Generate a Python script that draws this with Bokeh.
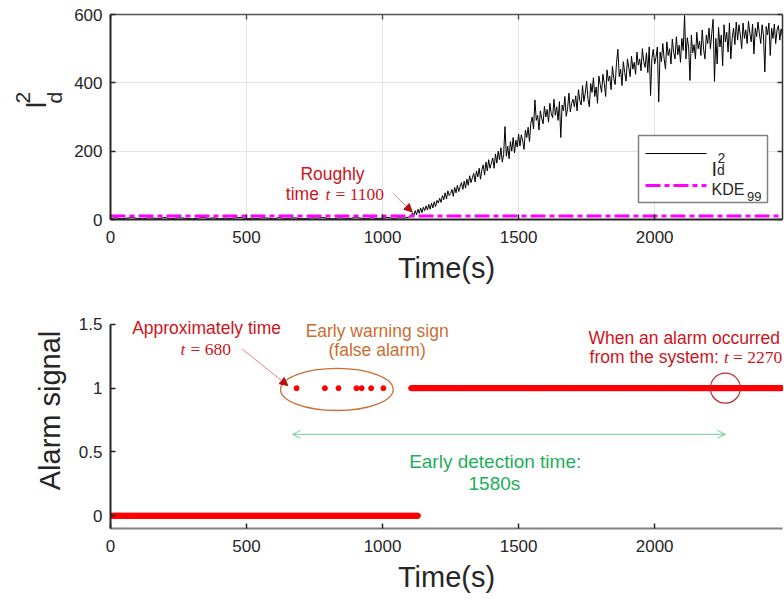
import numpy as np
from math import pi
from bokeh.plotting import figure
from bokeh.models import (Range1d, LinearAxis, Label, Arrow, NormalHead, OpenHead,
                          FixedTicker, CustomJSTickFormatter)
from bokeh.core.properties import value
from bokeh.layouts import column, row
from bokeh.embed import file_html
from bokeh.resources import INLINE

# ---------------- data ----------------
# I_d^2 statistic, sampled every 20 s from t = 0 (normal operation)
id2_pre = [3, 5, 2, 4, 6, 3, 2, 5, 4, 3, 6, 2, 4, 5, 3, 2, 4, 6, 3, 5,
           2, 4, 3, 5, 6, 2, 4, 3, 5, 4, 2, 6, 3, 4, 5, 2, 3, 5, 4, 6,
           3, 2, 5, 4, 3, 6, 4, 2, 5, 3, 4, 6, 3, 5, 4, 8]
# I_d^2 statistic, sampled every 5 s from t = 1105 (fault developing)
id2_post = [8, 20, 12, 26, 14, 30, 18, 34, 20, 36, 26, 40, 28, 44, 30, 48, 34, 52, 38, 56,
            48, 62, 50, 70, 58, 78, 60, 84, 70, 76, 88, 68, 94, 78, 100, 82, 96, 108, 88, 112,
            92, 118, 100, 128, 108, 122, 135, 110, 142, 125, 150, 118, 145, 160, 130, 168, 142, 175, 150, 165,
            180, 150, 192, 165, 200, 175, 210, 168, 190, 272, 185, 215, 178, 228, 200, 240, 195, 232, 212, 250,
            215, 248, 230, 205, 262, 240, 270, 228, 282, 300, 265, 350, 290, 305, 262, 318, 296, 280, 332, 300,
            322, 285, 340, 310, 298, 352, 305, 330, 290, 345, 240, 335, 318, 360, 302, 325, 370, 315, 340, 352,
            330, 362, 318, 380, 348, 335, 392, 345, 370, 405, 352, 330, 398, 372, 415, 360, 388, 340, 420, 395,
            372, 425, 398, 360, 438, 405, 420, 380, 448, 412, 395, 460, 498, 418, 440, 392, 462, 430, 405, 470,
            445, 418, 478, 440, 460, 425, 490, 452, 470, 435, 500, 462, 445, 488, 430, 505, 363, 472, 498, 455,
            475, 505, 344, 490, 462, 515, 470, 440, 520, 480, 500, 455, 528, 490, 470, 535, 482, 510, 460, 530,
            495, 597, 470, 532, 505, 407, 540, 488, 512, 470, 548, 500, 522, 480, 555, 498, 470, 540, 515, 560,
            500, 545, 586, 404, 530, 455, 562, 505, 540, 450, 570, 520, 548, 490, 575, 470, 530, 560, 512, 578,
            525, 570, 540, 500, 575, 530, 555, 515, 580, 545, 520, 572, 485, 560, 535, 578, 545, 515, 570, 540,
            432, 565, 540, 575, 480, 560, 530, 572, 515, 555, 568, 525, 558, 535]
kde99 = 10            # KDE 99% control limit
t_end = 2470          # end of record (s)

# alarm signal
alarm_off_span = (0, 1130)        # alarm = 0 over this interval
alarm_on_span = (1105, 2470)      # alarm = 1 over this interval
false_alarm_times = [684, 788, 838, 904, 923, 958, 1003]
alarm_time = 2260

x_ticks = [0, 500, 1000, 1500, 2000]
y1_ticks = [0, 200, 400, 600]
y2_ticks = [0, 0.5, 1, 1.5]

t_pre = [20 * i for i in range(len(id2_pre))]
t_post = [1105 + 5 * i for i in range(len(id2_post))]
t_id2 = t_pre + t_post
v_id2 = id2_pre + id2_post

t_off = np.arange(alarm_off_span[0], alarm_off_span[1] + 1, 2)
t_on = np.arange(alarm_on_span[0], alarm_on_span[1] + 1, 2)

# ---------------- style ----------------
SANS = "Liberation Sans"
SERIF = "Liberation Serif"
AX = "#262626"
RED = "#cc1420"
ORANGE = "#c86e32"
GREEN = "#1eae5a"
MAGENTA = "#ff00ff"
KDE_DASH = "15 4 5 4"
TICK_FS = "17px"
LAB_FS = "29px"
ANN_FS = "17.5px"


def style_axis(ax, color=AX, width=2):
    ax.axis_line_color = color
    ax.axis_line_width = width
    ax.major_tick_line_color = color
    ax.major_tick_line_width = 1.5
    ax.major_tick_in = 5
    ax.major_tick_out = 0
    ax.minor_tick_line_color = None
    ax.major_label_text_font = SANS
    ax.major_label_text_font_size = TICK_FS
    ax.major_label_text_color = AX
    ax.axis_label_text_font = SANS
    ax.axis_label_text_font_size = LAB_FS
    ax.axis_label_text_font_style = "normal"
    ax.axis_label_text_color = AX


def blank_axis(ax):
    ax.formatter = CustomJSTickFormatter(code="return ''")
    ax.major_label_standoff = 0
    ax.major_label_text_font_size = "1px"


def lab(p, x, y, text, size=ANN_FS, color=RED, font=SANS, style="normal",
        align="left", baseline="alphabetic", angle=0):
    p.add_layout(Label(x=x, y=y, text=text, text_font=font, text_font_size=size,
                       text_color=color, text_font_style=style, text_align=align,
                       text_baseline=baseline, angle=angle))


# ---------------- y-label strip for top figure ----------------
yl = figure(width=68, height=290, output_backend="svg", toolbar_location=None,
            x_range=Range1d(0, 68), y_range=Range1d(0, 290),
            x_axis_type=None, y_axis_type=None,
            min_border_left=0, min_border_right=0, min_border_top=0, min_border_bottom=0)
yl.outline_line_color = None
yl.grid.grid_line_color = None
for tx, ty, tt, fs in [(35, 162, "I", "29px"), (22.5, 172.5, "2", "21px"), (54, 172.5, "d", "21px")]:
    yl.text(x=[tx], y=[ty], text=[tt], angle=pi / 2, text_font=value(SANS),
            text_font_size=fs, text_color=AX, text_align="center", text_baseline="middle")

# ---------------- top figure ----------------
p1 = figure(width=716, height=290, output_backend="svg", toolbar_location=None,
            x_range=Range1d(0, t_end), y_range=Range1d(0, 600),
            min_border_left=42, min_border_right=2, min_border_top=14, min_border_bottom=71)
p1.outline_line_color = None
p1.background_fill_color = "white"
p1.xaxis.ticker = FixedTicker(ticks=x_ticks)
p1.yaxis.ticker = FixedTicker(ticks=y1_ticks)
style_axis(p1.xaxis[0])
style_axis(p1.yaxis[0])
p1.xaxis.axis_label = "Time(s)"
p1.xaxis.major_label_standoff = 11
p1.xaxis.axis_label_standoff = 6
p1.yaxis.major_label_standoff = 8
p1.xgrid.ticker = FixedTicker(ticks=x_ticks)
p1.ygrid.ticker = FixedTicker(ticks=y1_ticks)
p1.xgrid.grid_line_color = "#e3e3e3"
p1.ygrid.grid_line_color = "#e3e3e3"

ax_top = LinearAxis(ticker=FixedTicker(ticks=x_ticks))
style_axis(ax_top, "#555555", 1.5)
blank_axis(ax_top)
p1.add_layout(ax_top, "above")
ax_right = LinearAxis(ticker=FixedTicker(ticks=y1_ticks))
style_axis(ax_right, "#333333", 1.5)
blank_axis(ax_right)
p1.add_layout(ax_right, "right")

p1.line(t_id2, v_id2, line_color="black", line_width=1)
p1.line([0, t_end], [kde99, kde99], line_color=MAGENTA, line_width=3, line_dash=KDE_DASH)

# ---- legend (drawn by hand, so that the labels can carry sub/superscripts) ----
# legend geometry, in screen pixels of the page -> converted to data units
def sx(px):
    return (px - 110) * t_end / 672.0


def sy(py):
    return (219.0 - py) * 600 / 205.0


p1.quad(left=[sx(638)], right=[sx(767)], bottom=[sy(202)], top=[sy(135)],
        fill_color="white", line_color="#808080", line_width=1.5)
p1.line([sx(645), sx(706)], [sy(153), sy(153)], line_color="black", line_width=1)
p1.line([sx(645), sx(706)], [sy(185), sy(185)], line_color=MAGENTA, line_width=3,
        line_dash=KDE_DASH)
lab(p1, sx(711), sy(168), "I", size="20px", color=AX)
lab(p1, sx(717), sy(157), "2", size="14px", color=AX)
lab(p1, sx(716.5), sy(169.5), "d", size="14px", color=AX)
lab(p1, sx(711), sy(189), "KDE", size="16px", color=AX)
lab(p1, sx(746.5), sy(195.5), "99", size="13px", color=AX)

# annotation
lab(p1, 816, 134.5, "Roughly", align="center")
lab(p1, 766, 74, "time", align="right")
lab(p1, 790, 74, "t", font=SERIF, style="italic")
lab(p1, 827, 74, "= 1100", font=SERIF)
p1.add_layout(Arrow(end=NormalHead(size=8, fill_color="#b01010", line_color="#b01010"),
                    x_start=1039, y_start=76, x_end=1109, y_end=22,
                    line_color="#e88080", line_width=1))

# ---------------- bottom figure ----------------
p2 = figure(width=784, height=312, output_backend="svg", toolbar_location=None,
            x_range=Range1d(0, t_end), y_range=Range1d(-0.1, 1.75),
            min_border_left=110, min_border_right=2, min_border_top=2, min_border_bottom=74)
p2.outline_line_color = None
p2.grid.grid_line_color = None
p2.xaxis.ticker = FixedTicker(ticks=x_ticks)
p2.yaxis.ticker = FixedTicker(ticks=y2_ticks)
p2.yaxis.bounds = (-0.1, 1.5)
style_axis(p2.xaxis[0], "#808080", 2)
style_axis(p2.yaxis[0])
p2.xaxis.major_tick_line_color = AX
p2.yaxis.formatter = CustomJSTickFormatter(code="return tick.toString();")
p2.xaxis.axis_label = "Time(s)"
p2.yaxis.axis_label = "Alarm signal"
p2.xaxis.major_label_standoff = 11
p2.xaxis.axis_label_standoff = 6
p2.yaxis.major_label_standoff = 8
p2.yaxis.axis_label_standoff = 10

p2.scatter(t_off, np.zeros(len(t_off)), size=5, color="#ff0000")
p2.scatter(t_on, np.ones(len(t_on)), size=5, color="#ff0000")
p2.scatter(false_alarm_times, [1] * len(false_alarm_times), size=5, color="#ff0000")

p2.ellipse(x=[832], y=[0.99], width=[414], height=[0.33], fill_color=None,
           line_color=ORANGE, line_width=1.3)
p2.scatter([alarm_time], [1], size=30, marker="circle", fill_color=None,
           line_color="#c0272d", line_width=1.2)
p2.add_layout(Arrow(start=OpenHead(size=8, line_color="#6fcf97", line_width=1),
                    end=OpenHead(size=8, line_color="#6fcf97", line_width=1),
                    x_start=669, y_start=0.638, x_end=alarm_time, y_end=0.638,
                    line_color="#6fcf97", line_width=1))
p2.add_layout(Arrow(end=NormalHead(size=8, fill_color="#b01010", line_color="#b01010"),
                    x_start=484, y_start=1.307, x_end=652, y_end=1.02,
                    line_color="#e88080", line_width=1))

lab(p2, 353, 1.469, "Approximately time", align="center")
lab(p2, 257, 1.307, "t", font=SERIF, style="italic")
lab(p2, 294, 1.307, "= 680", font=SERIF)
lab(p2, 980, 1.451, "Early warning sign", color=ORANGE, align="center")
lab(p2, 980, 1.30, "(false alarm)", color=ORANGE, align="center")
lab(p2, 2109, 1.394, "When an alarm occurred", align="center")
lab(p2, 1761, 1.242, "from the system:")
lab(p2, 2255, 1.242, "t", font=SERIF, style="italic")
lab(p2, 2288, 1.242, "= 2270", font=SERIF)
lab(p2, 1414, 0.424, "Early detection time:", size="19px", color=GREEN, align="center")
lab(p2, 1411, 0.249, "1580s", size="19px", color=GREEN, align="center")

layout = column(row(yl, p1, spacing=0), p2, spacing=0)
open("out.html", "w").write(file_html(layout, INLINE))
